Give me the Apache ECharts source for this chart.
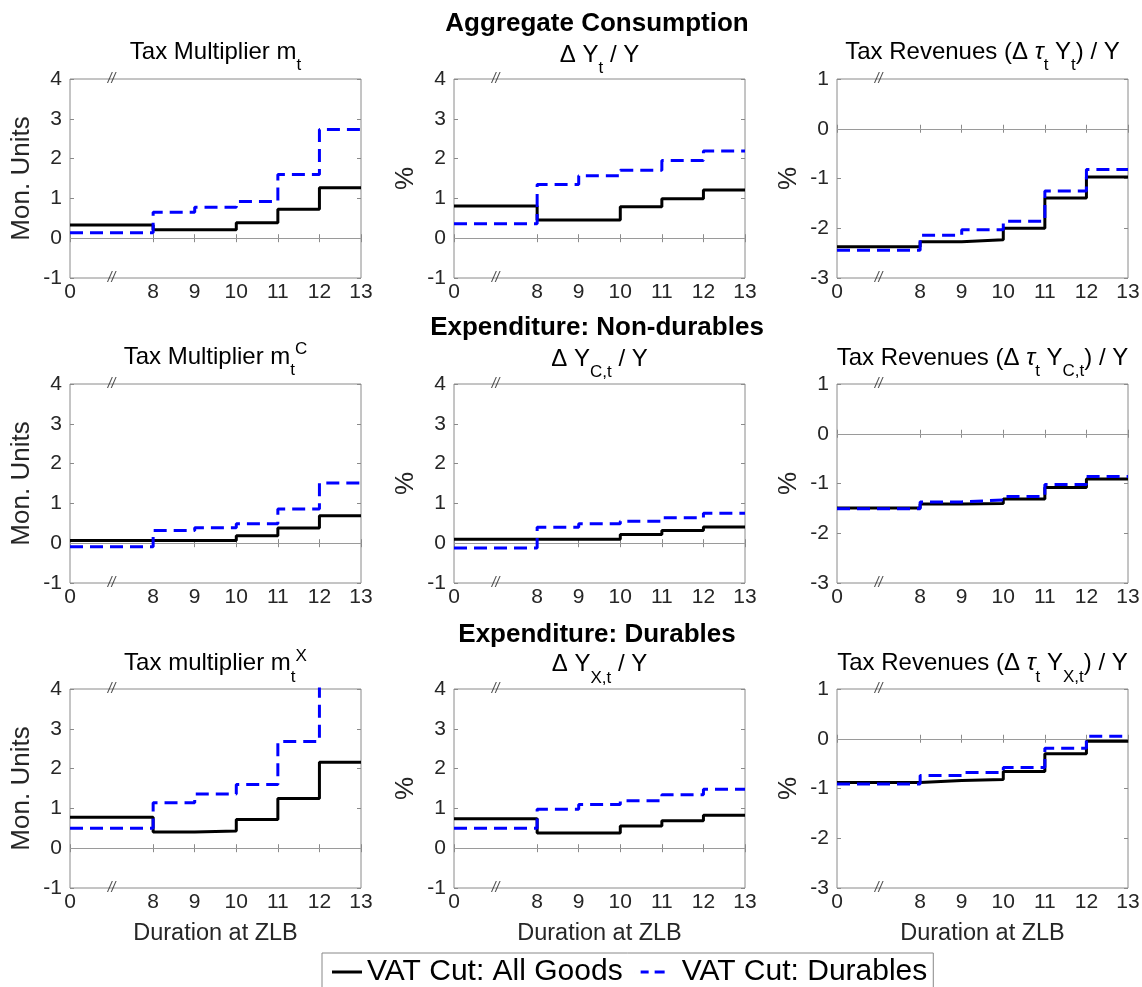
<!DOCTYPE html>
<html>
<head>
<meta charset="utf-8">
<script src="https://cdn.jsdelivr.net/npm/echarts@6/dist/echarts.min.js"></script>
<style>
  html, body { margin: 0; padding: 0; background: #fff; }
  #chart { width: 1142px; height: 987px; }
</style>
</head>
<body>
<div id="chart"></div>
<script>
// Durations at the zero lower bound (x-axis tick labels)
const durations = [0, 8, 9, 10, 11, 12, 13];

// Step values on each interval [durations[i], durations[i+1]]
// Aggregate consumption
const multAll      = [0.33, 0.21, 0.21, 0.39, 0.73, 1.27];
const multDur      = [0.14, 0.65, 0.78, 0.92, 1.60, 2.73];
const dYAll        = [0.81, 0.46, 0.46, 0.79, 0.99, 1.21];
const dYDur        = [0.36, 1.35, 1.57, 1.71, 1.95, 2.19];
const revAll       = [-2.37, -2.27, -2.23, -2.00, -1.39, -0.97];
const revDur       = [-2.44, -2.14, -2.03, -1.86, -1.25, -0.82];
// Expenditure: non-durables
const multCAll     = [0.07, 0.07, 0.07, 0.19, 0.38, 0.69];
const multCDur     = [-0.09, 0.32, 0.39, 0.49, 0.86, 1.51];
const dYCAll       = [0.10, 0.10, 0.10, 0.22, 0.32, 0.41];
const dYCDur       = [-0.12, 0.40, 0.49, 0.55, 0.64, 0.75];
const revCAll      = [-1.49, -1.41, -1.40, -1.31, -1.08, -0.91];
const revCDur      = [-1.51, -1.37, -1.33, -1.26, -1.02, -0.86];
// Expenditure: durables
const multXAll     = [0.78, 0.41, 0.43, 0.72, 1.25, 2.16];
const multXDur     = [0.50, 1.14, 1.36, 1.60, 2.68, 4.60];
const dYXAll       = [0.74, 0.38, 0.38, 0.56, 0.69, 0.83];
const dYXDur       = [0.50, 0.98, 1.10, 1.19, 1.34, 1.48];
const revXAll      = [-0.88, -0.84, -0.82, -0.66, -0.30, -0.05];
const revXDur      = [-0.91, -0.74, -0.68, -0.58, -0.19, 0.05];

const seriesNames = ['VAT Cut: All Goods', 'VAT Cut: Durables'];
const rowHeaders = ['Aggregate Consumption', 'Expenditure: Non-durables', 'Expenditure: Durables'];

const FONT = 'Helvetica, "Liberation Sans", Arial, sans-serif';

// The gap between 0 and the first positive duration is compressed:
// duration 0 sits two steps to the left of the first positive duration.
const BREAK_SPAN = 2;
const axisPos = d => (d === 0 ? durations[1] - BREAK_SPAN : d);
const tickPos = durations.map(axisPos);
const breakPos = durations[1] - BREAK_SPAN / 2;

function stepData(values) {
  const pts = values.map((v, i) => [axisPos(durations[i]), v]);
  pts.push([axisPos(durations[durations.length - 1]), values[values.length - 1]]);
  return pts;
}

// Panels row by row
const panels = [
  { all: multAll,  dur: multDur,  yMin: -1, yMax: 4, yName: 'Mon. Units',
    title: '{a|Tax Multiplier m}{s|t}' },
  { all: dYAll,    dur: dYDur,    yMin: -1, yMax: 4, yName: '%',
    title: '{a|Δ Y}{s|t}{a| / Y}' },
  { all: revAll,   dur: revDur,   yMin: -3, yMax: 1, yName: '%',
    title: '{a|Tax Revenues (Δ }{i|τ}{s|t}{a| Y}{s|t}{a|) / Y}' },
  { all: multCAll, dur: multCDur, yMin: -1, yMax: 4, yName: 'Mon. Units',
    title: '{a|Tax Multiplier m}{s|t}{u|C}' },
  { all: dYCAll,   dur: dYCDur,   yMin: -1, yMax: 4, yName: '%',
    title: '{a|Δ Y}{s|C,t}{a| / Y}' },
  { all: revCAll,  dur: revCDur,  yMin: -3, yMax: 1, yName: '%',
    title: '{a|Tax Revenues (Δ }{i|τ}{s|t}{a| Y}{s|C,t}{a|) / Y}' },
  { all: multXAll, dur: multXDur, yMin: -1, yMax: 4, yName: 'Mon. Units',
    title: '{a|Tax multiplier m}{s|t}{u|X}' },
  { all: dYXAll,   dur: dYXDur,   yMin: -1, yMax: 4, yName: '%',
    title: '{a|Δ Y}{s|X,t}{a| / Y}' },
  { all: revXAll,  dur: revXDur,  yMin: -3, yMax: 1, yName: '%',
    title: '{a|Tax Revenues (Δ }{i|τ}{s|t}{a| Y}{s|X,t}{a|) / Y}' }
];

// Layout of the 3 x 3 grid of axes
const colLeft = [70, 454, 837];
const rowTop = [79, 384, 689];
const plotW = 291, plotH = 199;
const titleY = [[52, 55, 52], [357, 359, 358], [663.5, 664.5, 663.5]];
const headerY = [24, 328, 635];
const headerX = 597;

const AXIS_GRAY = '#8a8a8a';
const LABEL_GRAY = '#262626';

const grids = [], xAxes = [], yAxes = [], series = [], graphics = [];

const titleRich = {
  a: { fontSize: 24, lineHeight: 44, verticalAlign: 'middle', fill: '#000', fontFamily: FONT },
  i: { fontSize: 24, lineHeight: 44, verticalAlign: 'middle', fill: '#000', fontFamily: FONT, fontStyle: 'italic' },
  // subscript: pushed down by top padding
  s: { fontSize: 17, lineHeight: 17, verticalAlign: 'middle', padding: [27, 0, 0, 0], fill: '#000', fontFamily: FONT },
  // superscript: pushed up by bottom padding
  u: { fontSize: 17, lineHeight: 17, verticalAlign: 'middle', padding: [0, 0, 15, 0], fill: '#000', fontFamily: FONT }
};

panels.forEach((p, k) => {
  const r = Math.floor(k / 3), c = k % 3;
  grids.push({
    left: colLeft[c], top: rowTop[r], width: plotW, height: plotH,
    show: true, borderColor: AXIS_GRAY, borderWidth: 1, backgroundColor: '#fff',
    containLabel: false, outerBoundsMode: 'none'
  });

  const xBase = {
    gridIndex: k, type: 'value', min: tickPos[0], max: tickPos[tickPos.length - 1],
    axisLine: { show: false },
    splitLine: { show: false },
    axisTick: { show: true, inside: true, length: 4, customValues: tickPos,
                lineStyle: { color: AXIS_GRAY, width: 1 } }
  };
  xAxes.push(Object.assign({}, xBase, {
    position: 'bottom',
    axisLabel: {
      show: true, customValues: tickPos, margin: 4,
      formatter: v => String(durations[tickPos.indexOf(v)]),
      fontSize: 21, color: LABEL_GRAY, fontFamily: FONT
    },
    name: r === 2 ? 'Duration at ZLB' : '',
    nameLocation: 'middle', nameGap: 34,
    nameTextStyle: { fontSize: 23.5, color: LABEL_GRAY, fontFamily: FONT }
  }));
  xAxes.push(Object.assign({}, xBase, {
    position: 'top', axisLabel: { show: false }
  }));

  const yBase = {
    gridIndex: k, type: 'value', min: p.yMin, max: p.yMax, interval: 1,
    axisLine: { show: false },
    splitLine: { show: false },
    axisTick: { show: true, inside: true, length: 4, lineStyle: { color: AXIS_GRAY, width: 1 } }
  };
  yAxes.push(Object.assign({}, yBase, {
    position: 'left',
    axisLabel: { show: true, margin: 8, fontSize: 21, color: LABEL_GRAY, fontFamily: FONT },
    name: p.yName, nameLocation: 'middle', nameGap: 35, nameRotate: 90,
    nameTextStyle: { fontSize: 26, color: LABEL_GRAY, fontFamily: FONT }
  }));
  yAxes.push(Object.assign({}, yBase, {
    position: 'right', axisLabel: { show: false }
  }));

  const xi = 2 * k, yi = 2 * k;
  series.push({
    name: seriesNames[0], type: 'line', step: 'end',
    xAxisIndex: xi, yAxisIndex: yi,
    data: stepData(p.all), symbol: 'none', clip: true,
    lineStyle: { color: '#000', width: 3, type: 'solid' },
    itemStyle: { color: '#000' },
    z: 3,
    markLine: {
      silent: true, symbol: 'none', label: { show: false },
      lineStyle: { color: '#9a9a9a', width: 1, type: 'solid' },
      data: [{ yAxis: 0 }], z: 1, animation: false
    }
  });
  series.push({
    name: seriesNames[1], type: 'line', step: 'end',
    xAxisIndex: xi, yAxisIndex: yi,
    data: stepData(p.dur), symbol: 'none', clip: true,
    lineStyle: { color: '#0000ff', width: 3, type: [13, 7] },
    itemStyle: { color: '#0000ff' },
    z: 4
  });
  // axis-break marks on the top and bottom edges
  series.push({
    name: 'break', type: 'scatter', xAxisIndex: xi, yAxisIndex: yi, silent: true,
    symbol: 'circle', symbolSize: 2, itemStyle: { color: 'rgba(0,0,0,0)' },
    data: [[breakPos, p.yMax], [breakPos, p.yMin]],
    label: { show: true, position: 'inside', formatter: '//', fontSize: 14,
             color: LABEL_GRAY, fontFamily: FONT, fontStyle: 'italic' },
    labelLayout: { hideOverlap: false },
    z: 5, clip: false
  });

  graphics.push({
    type: 'text', x: colLeft[c] + plotW / 2, y: titleY[r][c], silent: true,
    style: { text: p.title, align: 'center', verticalAlign: 'middle', rich: titleRich,
             fontSize: 24, fontFamily: FONT, fill: '#000' }
  });
});

rowHeaders.forEach((h, r) => {
  graphics.push({
    type: 'text', x: headerX, y: headerY[r], silent: true,
    style: { text: h, align: 'center', verticalAlign: 'middle',
             fontSize: 26, fontWeight: 'bold', fontFamily: FONT, fill: '#000' }
  });
});

const chart = echarts.init(document.getElementById('chart'), null, { renderer: 'canvas' });
chart.setOption({
  backgroundColor: '#fff',
  animation: false,
  grid: grids,
  xAxis: xAxes,
  yAxis: yAxes,
  series: series,
  graphic: graphics,
  legend: {
    data: [
      // solid line key
      { name: seriesNames[0], icon: 'rect', itemStyle: { color: '#000' } },
      // dashed line key: two short dashes
      { name: seriesNames[1],
        icon: 'path://M0,0h0.01v3h-0.01z M6,0h8v3h-8z M20,0h10v3h-10z',
        itemStyle: { color: '#0000ff' },
        textStyle: { padding: [0, 0, 0, 12] } }
    ],
    left: 322, top: 953,
    orient: 'horizontal',
    itemWidth: 30, itemHeight: 3, itemGap: 12,
    padding: [4, 6, 6, 10],
    borderColor: '#888', borderWidth: 1, backgroundColor: '#fff',
    textStyle: { fontSize: 30, color: '#000', fontFamily: FONT }
  }
});
</script>
</body>
</html>
